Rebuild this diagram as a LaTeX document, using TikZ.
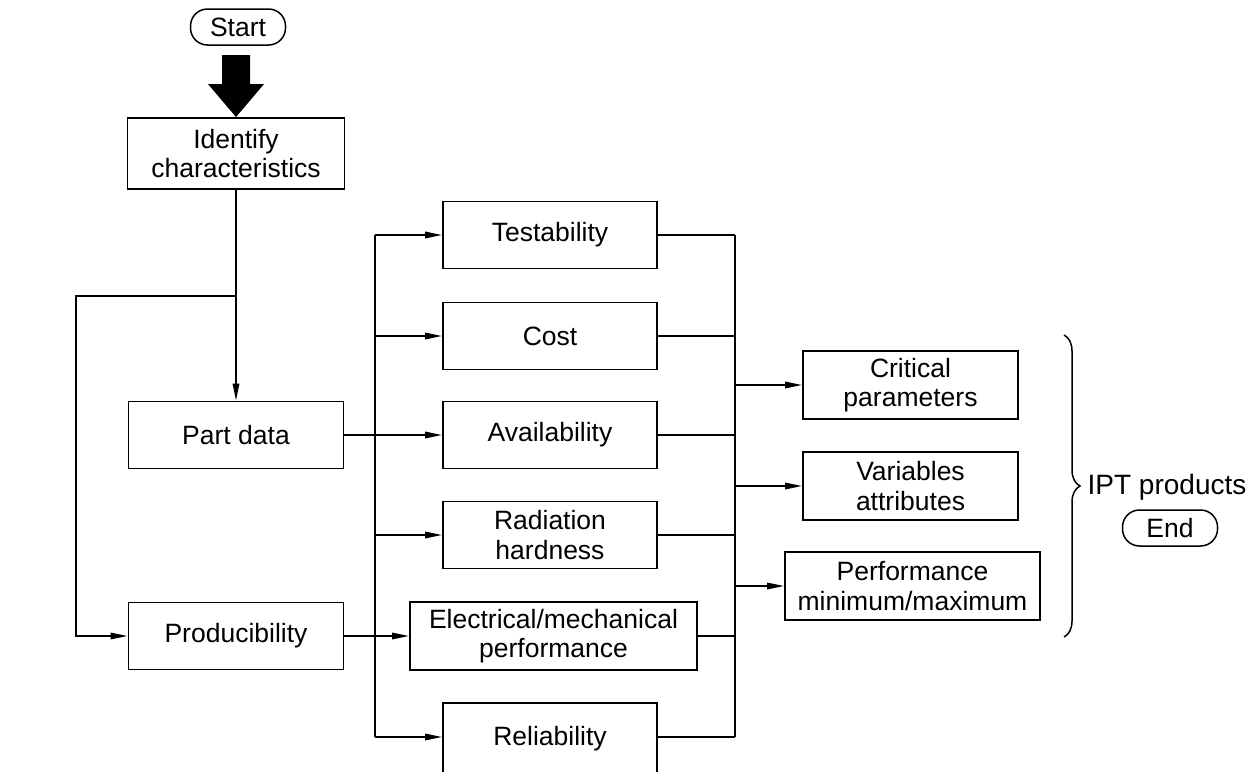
\documentclass[tikz,border=0pt]{standalone}
\usepackage{fontspec}
\setmainfont{Liberation Sans}
\usetikzlibrary{arrows.meta,calc,decorations.pathreplacing}
\begin{document}
\begin{tikzpicture}[x=1pt,y=-1pt,
  txt/.style={font=\fontsize{26.5}{29.5}\selectfont, align=center},
  box/.style={txt, draw, line width=1.9pt, inner sep=0pt,
              minimum width=214pt, minimum height=67pt},
  term/.style={txt, draw, line width=1.5pt, rounded corners=17pt, inner sep=0pt,
               minimum width=95pt, minimum height=36pt},
  conn/.style={line width=1.7pt},
  arr/.style={conn, -{Triangle[length=17pt,width=6.5pt]}},
]
\useasboundingbox (0,0) rectangle (1258,771);

% terminals
\node[term] (start) at (238,27) {Start};
\node[term] (end) at (1170,528) {End};

% process boxes
\node[box, minimum width=217pt, minimum height=71pt] (ident) at (236,153.5) {Identify\\characteristics};
\node[box, minimum width=215pt] (part) at (236,435) {Part data};
\node[box, minimum width=215pt] (prod) at (236,636) {Producibility};

\node[box] (test)  at (550,235) {Testability};
\node[box] (cost)  at (550,336) {Cost};
\node[box] (avail) at (550,435) {Availability};
\node[box] (rad)   at (550,535) {Radiation\\hardness};
\node[box, minimum width=287pt, minimum height=68pt] (elec) at (553.5,636) {Electrical/mechanical\\performance};
\node[box, minimum height=71pt] (rel) at (550,738.5) {Reliability};

\node[box, minimum width=215pt, minimum height=68pt] (crit) at (910.5,385) {Critical\\parameters};
\node[box, minimum width=215pt, minimum height=68pt] (vars) at (910.5,486) {Variables\\attributes};
\node[box, minimum width=255pt, minimum height=68pt] (perf) at (912.5,586) {Performance\\minimum/maximum};

% heavy start arrow
\fill (ident.north) -- ++(-28,-33) -- ++(14,0) -- ++(0,-29) -- ++(28,0)
      -- ++(0,29) -- ++(14,0) -- cycle;

% main flow
\coordinate (split) at (236,296);
\coordinate (lcorner) at (76,296);
\draw[arr] (ident.south) -- (part.north);
\draw[arr] (split) -- (lcorner) |- (prod.west);

% left distribution bus
\coordinate (lbtop) at (375,235);
\coordinate (lbbot) at (375,737);
\draw[conn] (lbtop) -- (lbbot);
\draw[arr] (test.west -| lbtop) -- (test.west);
\draw[arr] (cost.west -| lbtop) -- (cost.west);
\draw[arr] (part.east) -- (part.east -| avail.west);
\draw[arr] (rad.west -| lbtop) -- (rad.west);
\draw[arr] (prod.east) -- (prod.east -| elec.west);
\draw[arr] (lbbot) -- (lbbot -| rel.west);

% right collection bus
\coordinate (rbtop) at (735,235);
\coordinate (rbbot) at (735,737);
\draw[conn] (rbtop) -- (rbbot);
\draw[conn] (test.east) -- (rbtop);
\draw[conn] (cost.east) -- (cost.east -| rbtop);
\draw[conn] (avail.east) -- (avail.east -| rbtop);
\draw[conn] (rad.east) -- (rad.east -| rbtop);
\draw[conn] (elec.east) -- (elec.east -| rbtop);
\draw[conn] (rbbot -| rel.east) -- (rbbot);
\draw[arr] (crit.west -| rbtop) -- (crit.west);
\draw[arr] (vars.west -| rbtop) -- (vars.west);
\draw[arr] (perf.west -| rbtop) -- (perf.west);

% products brace
\draw[line width=1.5pt, decorate, decoration={brace, amplitude=16pt}]
  (1064,335) -- (1064,637);
\node[txt, font=\fontsize{28}{30}\selectfont] (ipt) at (1167,487) {IPT products};
\end{tikzpicture}
\end{document}
